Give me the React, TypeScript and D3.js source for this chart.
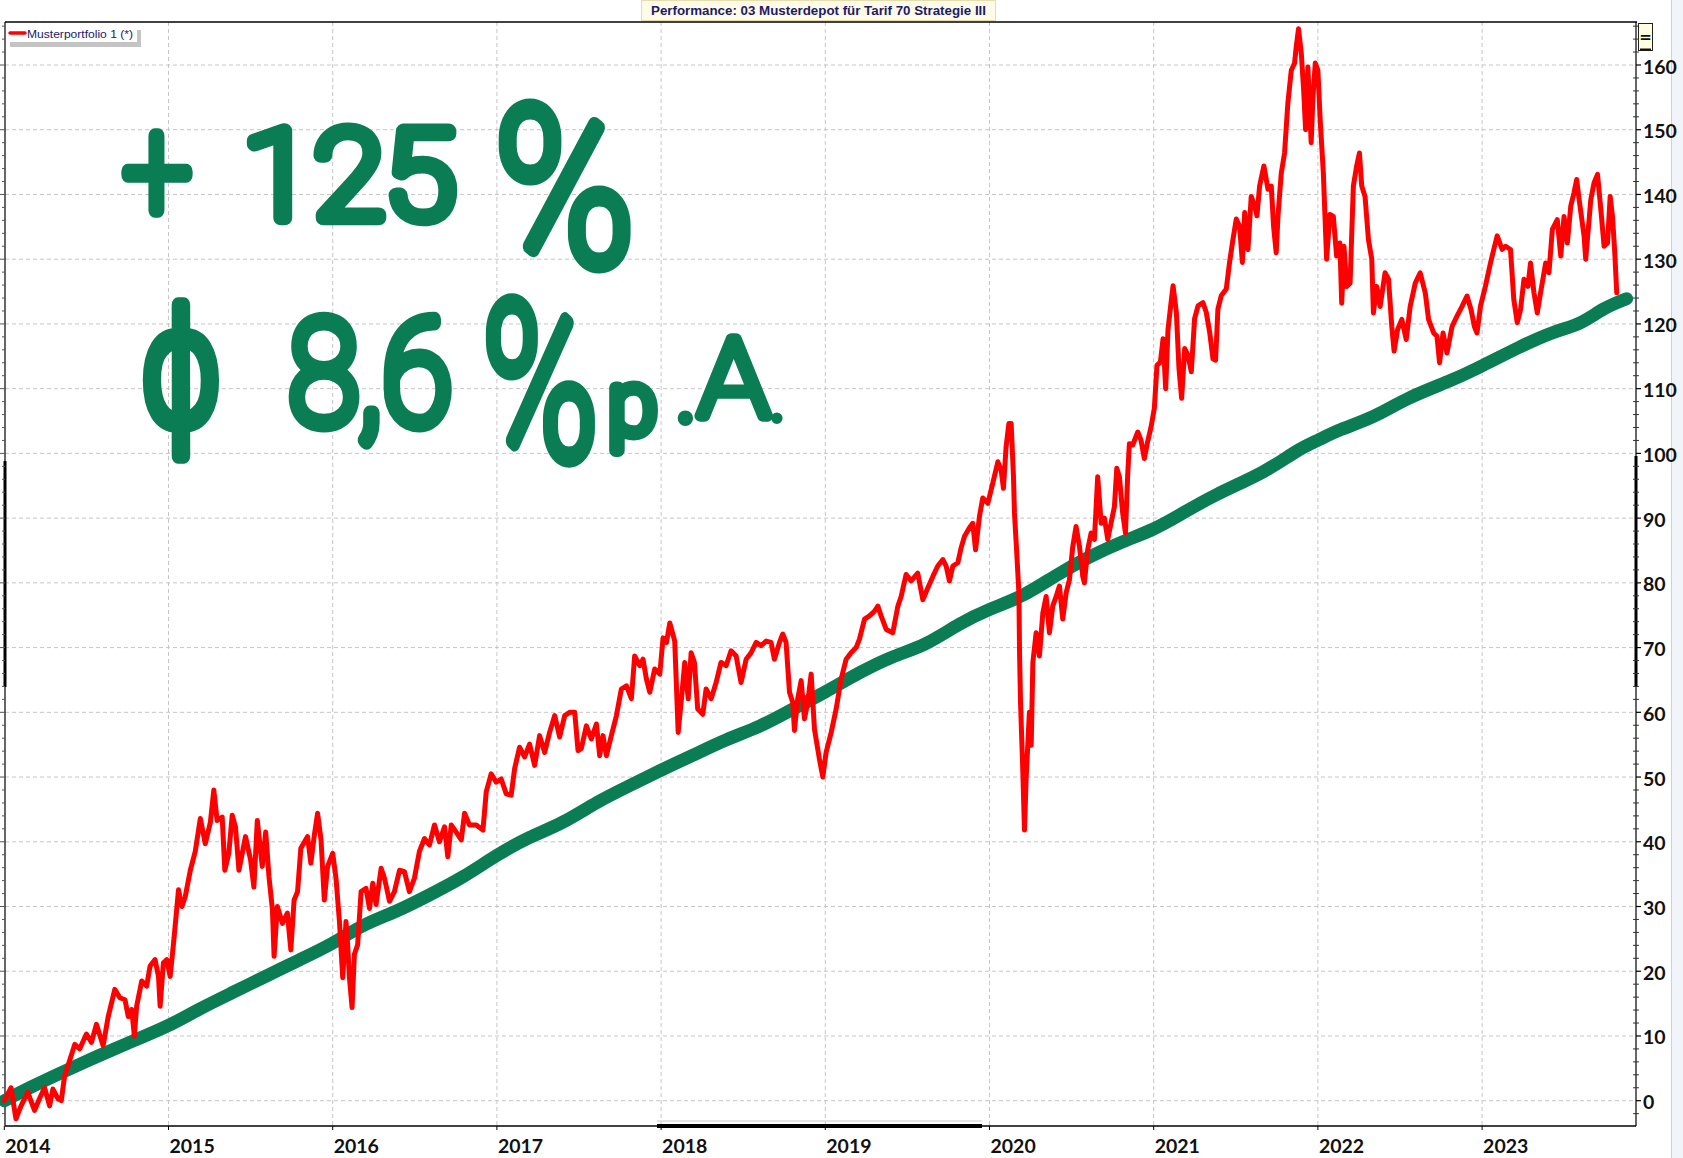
import React, { useMemo } from 'react';
import * as d3 from 'd3';

// ---------- data ----------
const yearTicks = [2014, 2015, 2016, 2017, 2018, 2019, 2020, 2021, 2022, 2023];
const valueTicks = [0, 10, 20, 30, 40, 50, 60, 70, 80, 90, 100, 110, 120, 130, 140, 150, 160];

const red2014: [number, number][] = [[2014.0,0],[2014.041,2],[2014.071,-2.8],[2014.102,-0.8],[2014.143,1.3],[2014.184,-1.5],[2014.214,0.3],[2014.245,2],[2014.276,-0.8],[2014.296,1.8],[2014.327,0.3],[2014.347,0],[2014.367,3.8],[2014.398,6.2],[2014.429,8.7],[2014.459,8],[2014.5,10.3],[2014.531,9],[2014.561,11.8],[2014.602,8.5],[2014.633,13],[2014.673,17.2],[2014.704,15.9],[2014.735,15.6],[2014.755,13],[2014.776,14.1],[2014.792,10],[2014.806,14.6],[2014.837,18.5],[2014.867,17.7],[2014.888,20.8],[2014.918,21.8],[2014.939,19.2],[2014.949,14.6],[2014.969,21.3],[2014.99,21.8]];
const red2015: [number, number][] = [[2015.01,19.2],[2015.031,24.4],[2015.061,32.6],[2015.082,30],[2015.102,31.5],[2015.133,35.6],[2015.163,38.5],[2015.194,43.6],[2015.224,39.7],[2015.255,43],[2015.276,48],[2015.296,43.3],[2015.327,43.8],[2015.343,35.6],[2015.367,38.2],[2015.388,44.1],[2015.408,42.3],[2015.429,35.6],[2015.469,40.8],[2015.5,37.2],[2015.52,33],[2015.541,43.3],[2015.571,36.2],[2015.592,41.5],[2015.612,34.6],[2015.633,29.5],[2015.643,22.3],[2015.663,30],[2015.694,27.4],[2015.724,29],[2015.745,23.3],[2015.765,31],[2015.786,32.3],[2015.806,39],[2015.847,40.8],[2015.867,36.7],[2015.888,41],[2015.908,44.4],[2015.929,40.3],[2015.949,31],[2015.969,36.2]];
const red2016: [number, number][] = [[2016.0,38.2],[2016.02,34.4],[2016.041,27.7],[2016.061,19],[2016.081,27.7],[2016.091,24.1],[2016.102,19],[2016.118,14.4],[2016.132,22.6],[2016.152,24.1],[2016.173,32.3],[2016.203,32.8],[2016.224,29.7],[2016.244,33.6],[2016.264,30.3],[2016.295,35.9],[2016.315,34.4],[2016.346,30.8],[2016.376,32.3],[2016.407,35.6],[2016.437,35.4],[2016.467,32.3],[2016.498,34.4],[2016.528,38.5],[2016.559,40.5],[2016.589,39.5],[2016.62,42.6],[2016.65,40],[2016.681,42.3],[2016.701,37.7],[2016.722,42.6],[2016.752,41.5],[2016.783,40.3],[2016.803,44.4],[2016.833,42.6],[2016.874,42.6],[2016.915,41.8],[2016.935,47.7],[2016.965,50.5],[2016.996,49.2]];
const red2017: [number, number][] = [[2017.026,49.7],[2017.057,47.4],[2017.087,47.2],[2017.108,51.3],[2017.138,54.6],[2017.169,53.1],[2017.199,55.1],[2017.23,51.8],[2017.26,56.4],[2017.291,53.8],[2017.321,56.9],[2017.352,59.5],[2017.382,56.2],[2017.413,59.5],[2017.443,60],[2017.474,60],[2017.494,54.1],[2017.514,54.4],[2017.545,57.9],[2017.575,55.9],[2017.606,58.2],[2017.626,53.3],[2017.646,56.4],[2017.667,53.3],[2017.697,56.4],[2017.728,59.5],[2017.758,63.6],[2017.789,64.1],[2017.819,62.1],[2017.839,68.7],[2017.87,67.2],[2017.89,68.2],[2017.911,65.1],[2017.931,63.1],[2017.961,66.7],[2017.992,65.9]];
const red2018: [number, number][] = [[2018.012,71.5],[2018.033,70.8],[2018.053,73.8],[2018.083,71],[2018.104,56.9],[2018.124,62.1],[2018.144,67.7],[2018.165,62.1],[2018.183,69.2],[2018.203,67.7],[2018.223,60.5],[2018.254,59.7],[2018.274,63.6],[2018.305,62.1],[2018.335,64.6],[2018.365,67.7],[2018.396,67.2],[2018.426,69.5],[2018.457,68.7],[2018.487,64.6],[2018.518,68.2],[2018.548,69.2],[2018.579,70.8],[2018.609,70.3],[2018.64,71],[2018.67,70.8],[2018.69,68.2],[2018.721,70.8],[2018.741,72.1],[2018.761,70.8],[2018.782,63.1],[2018.802,61.5],[2018.812,57.2],[2018.832,62.1],[2018.853,64.9],[2018.873,59],[2018.893,61.5],[2018.914,65.9],[2018.934,57.4],[2018.964,52.8],[2018.985,50]];
const red2019: [number, number][] = [[2019.005,53.8],[2019.036,56.9],[2019.066,60.5],[2019.096,65.1],[2019.127,68.2],[2019.157,69.2],[2019.188,70],[2019.208,71.3],[2019.239,74.4],[2019.269,74.9],[2019.299,75.6],[2019.32,76.4],[2019.34,74.9],[2019.371,72.8],[2019.411,72.3],[2019.442,76.4],[2019.462,77.9],[2019.492,81.3],[2019.523,80.3],[2019.563,81.5],[2019.594,77.4],[2019.624,79.2],[2019.655,81],[2019.685,82.6],[2019.716,83.6],[2019.736,82.6],[2019.756,80.3],[2019.777,82.6],[2019.807,83.1],[2019.827,85.4],[2019.848,87.2],[2019.878,88.5],[2019.898,89.2],[2019.915,85.1],[2019.939,90.3],[2019.959,93.1],[2019.99,92.3]];
const red2020: [number, number][] = [[2020.02,95.4],[2020.051,98.7],[2020.071,97.4],[2020.085,94.6],[2020.101,101],[2020.118,104.6],[2020.132,104.6],[2020.146,96.4],[2020.152,90.8],[2020.166,84.6],[2020.179,78.5],[2020.183,69.2],[2020.189,61.5],[2020.197,55.4],[2020.203,50.8],[2020.213,41.8],[2020.223,49.7],[2020.233,54.9],[2020.243,60],[2020.254,54.9],[2020.264,67.7],[2020.284,72.3],[2020.304,68.7],[2020.325,75.4],[2020.345,77.9],[2020.365,72.3],[2020.385,76.4],[2020.406,77.9],[2020.426,79.5],[2020.446,74.4],[2020.467,78.5],[2020.487,80.5],[2020.507,85.6],[2020.527,88.7],[2020.548,85.6],[2020.568,81],[2020.578,80],[2020.598,85.1],[2020.619,87.7],[2020.639,86.7],[2020.659,96.4],[2020.68,89.2],[2020.7,90],[2020.72,86.7],[2020.74,89.2],[2020.761,91.8],[2020.775,97.7],[2020.791,96.4],[2020.811,90.8],[2020.828,87.7],[2020.842,96.9],[2020.852,101.5],[2020.872,101.3],[2020.903,103.3],[2020.923,102],[2020.943,99.2],[2020.963,101.8],[2020.984,104.1]];
const red2021: [number, number][] = [[2021.004,107],[2021.02,113.6],[2021.041,114.1],[2021.057,117.7],[2021.073,110],[2021.087,119.1],[2021.108,123.8],[2021.118,125.9],[2021.138,121.8],[2021.154,113.1],[2021.17,108.5],[2021.189,116.2],[2021.209,115.1],[2021.229,112.6],[2021.249,120.8],[2021.27,122.8],[2021.3,123.3],[2021.32,121.8],[2021.341,118.7],[2021.361,114.6],[2021.377,114.4],[2021.391,122.3],[2021.412,124.4],[2021.442,125.4],[2021.462,129.5],[2021.483,133.1],[2021.503,136.2],[2021.523,135.1],[2021.54,129.5],[2021.554,137.2],[2021.574,131.5],[2021.594,139.7],[2021.615,138.2],[2021.629,136.7],[2021.645,141.3],[2021.671,144.4],[2021.696,140.8],[2021.716,141.3],[2021.73,135.1],[2021.746,131],[2021.757,136.7],[2021.777,143.3],[2021.797,146.4],[2021.817,154.1],[2021.838,159.2],[2021.858,160.3],[2021.868,162.8],[2021.882,165.6],[2021.899,161.8],[2021.913,156.2],[2021.925,150],[2021.939,159.7],[2021.959,148],[2021.97,155.1],[2021.984,160.3]];
const red2022: [number, number][] = [[2022.0,159.2],[2022.014,151.5],[2022.033,143.4],[2022.053,130],[2022.073,136.9],[2022.094,136.6],[2022.114,130.5],[2022.134,132.5],[2022.145,123.2],[2022.159,132],[2022.175,125.8],[2022.196,126.3],[2022.216,141.3],[2022.236,144.4],[2022.253,146.4],[2022.267,141.3],[2022.287,139.7],[2022.308,133],[2022.328,130],[2022.338,121.7],[2022.358,125.8],[2022.379,122.7],[2022.409,127.9],[2022.43,126.9],[2022.45,119.6],[2022.464,115.8],[2022.485,119.1],[2022.511,120.7],[2022.538,117.6],[2022.562,122.7],[2022.593,126.3],[2022.623,127.9],[2022.654,124.8],[2022.674,120.7],[2022.705,118.6],[2022.725,118.1],[2022.741,114],[2022.762,118.6],[2022.786,115.5],[2022.817,119.6],[2022.847,121.2],[2022.878,122.7],[2022.908,124.3],[2022.933,122.2],[2022.953,119.6],[2022.969,118.6],[2022.99,122.7]];
const red2023: [number, number][] = [[2023.02,125.8],[2023.051,129.4],[2023.071,131.5],[2023.092,133.6],[2023.122,131.5],[2023.143,132],[2023.173,131.5],[2023.193,123.8],[2023.214,120.2],[2023.234,122.2],[2023.255,126.9],[2023.279,125.8],[2023.295,129.4],[2023.316,124.8],[2023.336,121.7],[2023.356,124.8],[2023.387,129.4],[2023.407,127.9],[2023.428,134.6],[2023.458,136.1],[2023.479,130.5],[2023.499,136.6],[2023.519,132.5],[2023.54,138.2],[2023.56,140.3],[2023.576,142.3],[2023.591,139.2],[2023.621,133.6],[2023.631,130],[2023.662,139.2],[2023.682,141.8],[2023.703,143.1],[2023.723,137.7],[2023.743,132],[2023.764,132.5],[2023.78,139.7],[2023.794,136.6],[2023.808,131],[2023.82,124.8]];

const greenTrend: [number, number][] = [[2014.0,0],[2014.16,2.1],[2014.37,4.6],[2014.57,6.9],[2014.78,9.2],[2015.0,11.5],[2015.18,14.1],[2015.39,16.7],[2015.59,19.2],[2015.8,21.8],[2016.0,24.2],[2016.18,27.2],[2016.39,29.2],[2016.59,31.8],[2016.79,34.4],[2017.0,38.0],[2017.2,40.8],[2017.4,42.8],[2017.61,46.2],[2017.81,48.7],[2018.01,51.2],[2018.19,53.3],[2018.4,55.9],[2018.6,57.7],[2018.8,60.5],[2019.0,63.1],[2019.21,66.2],[2019.41,68.7],[2019.61,70.3],[2019.82,73.8],[2020.0,76.0],[2020.2,77.8],[2020.41,81.3],[2020.61,84.1],[2020.81,86.4],[2021.0,88.2],[2021.16,90.5],[2021.36,93.5],[2021.69,97.2],[2021.87,100.5],[2022.0,102],[2022.13,103.7],[2022.34,105.5],[2022.54,108.6],[2022.83,111.4],[2023.0,113.5],[2023.23,116.5],[2023.44,118.9],[2023.6,119.9],[2023.74,122.5],[2023.88,123.9]];

const titleText = 'Performance: 03 Musterdepot für Tarif 70 Strategie III';
const legendText = 'Musterportfolio 1 (*)';

// handwritten annotation glyphs: text and the box it fills (dots are placed, not stretched)
const handNotes = [
  { t: '+', x0: 120, y0: 127, x1: 194, y1: 217, sw: 14, dot: false },
  { t: '125', x0: 247, y0: 123, x1: 457, y1: 227, sw: 15, dot: false },
  { t: '%', x0: 497, y0: 97, x1: 631, y1: 273, sw: 14, dot: false },
  { t: 'ϕ', x0: 142, y0: 298, x1: 220, y1: 463, sw: 14, dot: false },
  { t: '8,6', x0: 287, y0: 313, x1: 453, y1: 450, sw: 14, dot: false },
  { t: '%', x0: 484, y0: 293, x1: 596, y1: 467, sw: 13, dot: false },
  { t: 'p', x0: 609, y0: 380, x1: 658, y1: 457, sw: 13, dot: false },
  { t: '.', x0: 679, y0: 411, x1: 692, y1: 424, sw: 10, dot: true },
  { t: 'A', x0: 694, y0: 333, x1: 774, y1: 423, sw: 12, dot: false },
  { t: '.', x0: 773, y0: 414, x1: 781, y1: 422, sw: 6, dot: true },
];

const RED = '#ff0000';
const GREEN = '#0a7d55';
const GRID = '#c6c6c6';
const THIN_CANDIDATES = ['Roboto', 'Inter', 'Lato', 'Open Sans', 'Noto Sans', 'DejaVu Sans'];

function buildNotes() {
  let ctx: CanvasRenderingContext2D | null = null;
  try { ctx = document.createElement('canvas').getContext('2d'); } catch (e) { ctx = null; }
  let family = 'Lato';
  let thin = false;
  if (ctx) {
    const probe = 'Apm%125ϕ';
    for (const f of THIN_CANDIDATES) {
      ctx.font = `400 100px '${f}', monospace`;
      const reg = ctx.measureText(probe).width;
      ctx.font = `400 100px monospace`;
      const mono = ctx.measureText(probe).width;
      if (Math.abs(reg - mono) < 0.5) continue; // not installed
      ctx.font = `100 100px '${f}', monospace`;
      const th = ctx.measureText(probe).width;
      if (Math.abs(th - reg) > 0.5) { family = f; thin = true; break; }
    }
  }
  const fontCss = `'${family}', 'DejaVu Sans', sans-serif`;
  const k = thin ? 1 : 0.55;
  const fits = handNotes.map(n => {
    const swT = n.sw * k;
    if (!ctx) return { tf: `translate(${n.x0},${n.y1})`, sw: swT };
    ctx.font = `100 100px ${fontCss}`;
    const m = ctx.measureText(n.t);
    const left = -m.actualBoundingBoxLeft;
    const right = m.actualBoundingBoxRight;
    const asc = m.actualBoundingBoxAscent;
    const desc = m.actualBoundingBoxDescent;
    if (n.dot) {
      const cx = (n.x0 + n.x1) / 2, cy = (n.y0 + n.y1) / 2;
      const tx = cx - (left + right) / 2;
      const ty = cy + (asc - desc) / 2;
      return { tf: `translate(${tx},${ty})`, sw: n.sw };
    }
    const pad = swT / 2;
    const tw = n.x1 - n.x0 - 2 * pad;
    const th = n.y1 - n.y0 - 2 * pad;
    const w = Math.max(1, right - left);
    const h = Math.max(1, asc + desc);
    const sx = Math.max(0.05, tw / w);
    const sy = Math.max(0.05, th / h);
    const tx = n.x0 + pad - left * sx;
    const ty = n.y0 + pad + asc * sy;
    return { tf: `translate(${tx},${ty}) scale(${sx},${sy})`, sw: swT / Math.sqrt(sx * sy) };
  });
  return { fontCss, fits };
}

export default function App() {
  const L = 5, R = 1636, T = 22, B = 1126;
  const x = d3.scaleLinear().domain([2014, 2024]).range([4.3, 1646.3]);
  const y = d3.scaleLinear().domain([0, 160]).range([1100.7, 65]);

  const redData = [...red2014, ...red2015, ...red2016, ...red2017, ...red2018, ...red2019, ...red2020, ...red2021, ...red2022, ...red2023];
  const redLine = d3.line<[number, number]>().x(d => x(d[0])).y(d => y(d[1]));
  const greenLine = d3.line<[number, number]>().x(d => x(d[0])).y(d => y(d[1])).curve(d3.curveBasis);

  const minorVals = d3.range(-2, 167, 2);
  const notes = useMemo(buildNotes, []);

  return (
    <svg width={1683} height={1158} style={{ position: 'absolute', left: 0, top: 0, background: '#fff' }}>
      <rect x={0} y={0} width={1683} height={1158} fill="#fff" />
      {/* right window edge */}
      <rect x={1671} y={0} width={12} height={1158} fill="#f1f4f8" />
      <line x1={1671.5} y1={0} x2={1671.5} y2={1158} stroke="#c9d3df" />

      {/* grid */}
      {valueTicks.map(v => (
        <line key={'h' + v} x1={L} x2={R} y1={y(v)} y2={y(v)} stroke={GRID} strokeDasharray="4 3" />
      ))}
      {yearTicks.slice(1).map(yr => (
        <line key={'v' + yr} x1={x(yr)} x2={x(yr)} y1={T} y2={B} stroke={GRID} strokeDasharray="4 3" />
      ))}

      {/* frame */}
      <line x1={L} x2={R + 1} y1={T} y2={T} stroke="#000" strokeWidth={1.5} />
      <line x1={L} x2={L} y1={T} y2={B} stroke="#000" strokeWidth={1.2} />
      <line x1={R} x2={R} y1={T} y2={B} stroke="#000" strokeWidth={1.2} />
      <line x1={L} x2={R} y1={B} y2={B} stroke="#000" strokeWidth={1.5} />
      <line x1={L} x2={L} y1={461} y2={687} stroke="#000" strokeWidth={3} />
      <line x1={R} x2={R} y1={456} y2={687} stroke="#000" strokeWidth={3} />
      <line x1={657} x2={982} y1={1121} y2={1121} stroke="#dcdcdc" strokeWidth={1.5} />
      <line x1={657} x2={982} y1={B} y2={B} stroke="#000" strokeWidth={4} />

      {/* left axis ticks */}
      {minorVals.map(v => (
        <line key={'lt' + v} x1={v % 10 === 0 ? 0 : 2} x2={L} y1={y(v)} y2={y(v)} stroke="#555" strokeWidth={1} />
      ))}
      {/* right axis ticks */}
      {minorVals.map(v => (
        v % 10 === 0
          ? <line key={'rt' + v} x1={R} x2={R + 5} y1={y(v)} y2={y(v)} stroke="#000" strokeWidth={1.2} />
          : <line key={'rt' + v} x1={R - 3} x2={R + 3} y1={y(v)} y2={y(v)} stroke="#333" strokeWidth={1} />
      ))}
      {/* bottom ticks */}
      {yearTicks.map(yr => (
        <line key={'bt' + yr} x1={x(yr)} x2={x(yr)} y1={B} y2={B + 4} stroke="#000" />
      ))}

      {/* value labels */}
      {valueTicks.map(v => (
        <text key={'vl' + v} x={1643} y={y(v) + 1} dominantBaseline="central" fontFamily="Lato, 'Open Sans', sans-serif" fontWeight={700} fontSize={19.5} fill="#111">{v}</text>
      ))}
      {/* year labels */}
      {yearTicks.map(yr => (
        <text key={'yl' + yr} x={x(yr) + 1} y={1153} fontFamily="Lato, 'Open Sans', sans-serif" fontWeight={700} fontSize={19.5} fill="#111">{yr}</text>
      ))}

      {/* series */}
      <path d={greenLine(greenTrend) || ''} fill="none" stroke={GREEN} strokeWidth={13} strokeLinecap="round" strokeLinejoin="round" />
      <path d={redLine(redData) || ''} fill="none" stroke={RED} strokeWidth={5} strokeLinejoin="round" strokeLinecap="round" />

      {/* title */}
      <rect x={641.5} y={0.5} width={354} height={20} fill="#fffbe6" stroke="#e6dcae" />
      <text x={818.5} y={14.5} textAnchor="middle" fontFamily="'Liberation Sans', Arial, sans-serif" fontWeight={700} fontSize={12} fill="#1b1b6a" textLength={335} lengthAdjust="spacingAndGlyphs">{titleText}</text>

      {/* legend */}
      <rect x={10} y={30} width={131} height={17} fill="#c4c4c4" />
      <rect x={7} y={27} width={130} height={15} fill="#fff" />
      <line x1={10} x2={25} y1={33} y2={33} stroke={RED} strokeWidth={3.5} strokeLinecap="round" />
      <text x={27} y={37.5} fontFamily="'Liberation Sans', Arial, sans-serif" fontSize={11} fill="#1b1b6a" textLength={106} lengthAdjust="spacingAndGlyphs">{legendText}</text>

      {/* "=" button */}
      <rect x={1638.5} y={23.5} width={14} height={27} fill="#fffde2" stroke="#222" />
      <text x={1645.5} y={42} textAnchor="middle" fontFamily="'DejaVu Sans', sans-serif" fontWeight={700} fontSize={15} fill="#111">=</text>
      <line x1={1640} x2={1651} y1={49.5} y2={49.5} stroke="#111" strokeWidth={2} />

      {/* handwritten notes */}
      {handNotes.map((n, i) => (
        <text key={'hn' + i} transform={notes.fits[i].tf} x={0} y={0} fontFamily={notes.fontCss} fontWeight={100} fontSize={100}
          fill={GREEN} stroke={GREEN} strokeWidth={notes.fits[i].sw} strokeLinejoin="round" strokeLinecap="round">{n.t}</text>
      ))}
    </svg>
  );
}
